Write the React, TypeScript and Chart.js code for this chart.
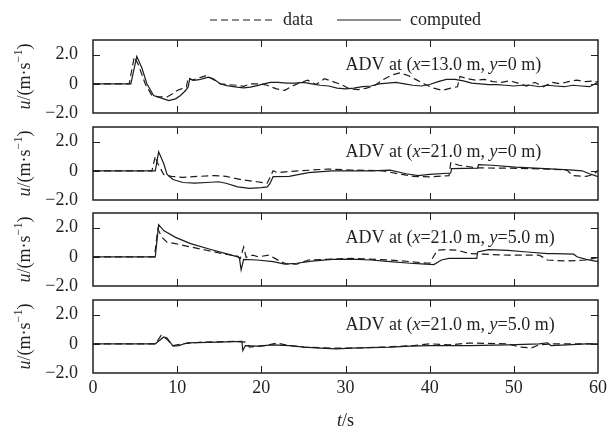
import React, { useEffect, useRef } from 'react';
import { Chart, registerables } from 'chart.js';

Chart.register(...registerables);

const FONT = "'Liberation Serif', 'Times New Roman', serif";
const INK = '#231f20';

const xTicks = [0, 10, 20, 30, 40, 50, 60];
const yTicks = [-2, 0, 2];
const legendLabels = ['data', 'computed'];
const probeX = ['13.0', '21.0', '21.0', '21.0'];
const probeY = ['0', '0', '5.0', '5.0'];

// Panel 1: ADV at (x=13.0 m, y=0 m)
const p1DataT = [0, 4.3, 4.9, 5.4, 6.2, 7.0, 7.8, 8.8, 9.4, 10.0, 10.5, 11.1, 11.3, 11.8, 12.3, 12.9, 13.5, 13.9, 14.5, 15.1, 15.9, 17.1, 17.9, 18.7, 19.9, 20.7, 21.8, 22.8, 23.5, 24.5, 25.5, 26.5, 27.5, 28.5, 29.5, 30.5, 31.5, 32.5, 33.5, 34.5, 35.5, 36.5, 37.5, 38.5, 39.5, 40.5, 41.5, 42.5, 43.3, 43.6, 44.5, 45.5, 46.5, 47.5, 48.5, 49.5, 50.5, 51.5, 52.5, 53.5, 54.5, 55.5, 56.5, 57.5, 58.5, 59.5, 60];
const p1DataU = [0, 0, 1.84, 1.3, 0, -0.8, -0.9, -0.9, -0.7, -0.46, -0.35, -0.23, 0.41, 0.25, 0.35, 0.46, 0.57, 0.42, 0.23, 0, -0.05, -0.1, -0.18, 0, 0, -0.1, -0.35, -0.45, -0.2, 0.05, 0.25, -0.05, 0.35, 0.15, -0.05, -0.35, -0.4, -0.3, -0.1, 0.3, 0.6, 0.75, 0.55, 0.25, -0.05, -0.3, -0.45, -0.3, -0.2, 0.5, 0.35, 0.25, 0.3, 0.15, 0.1, 0.2, 0.05, -0.15, 0.1, -0.2, 0.1, 0.0, 0.15, 0.25, 0.15, 0.2, 0.1];
const p1CompT = [0, 4.5, 5.2, 5.8, 6.4, 7.2, 8.4, 9.0, 9.8, 10.4, 11.0, 11.3, 11.5, 12.0, 12.6, 13.1, 13.7, 14.3, 15.1, 15.9, 17.1, 17.9, 18.7, 19.5, 20.3, 21.1, 22, 23, 24, 25, 26, 27, 28, 29, 30, 31, 32, 33, 34, 35, 36, 37, 38, 39, 40, 41, 42, 43, 44, 45, 46, 47, 48, 49, 50, 51, 52, 53, 54, 55, 56, 57, 58, 59, 60];
const p1CompU = [0, 0, 1.88, 1.1, 0, -0.8, -1.03, -1.15, -1.03, -0.8, -0.46, -0.23, 0.35, 0.23, 0.28, 0.35, 0.46, 0.35, 0, -0.12, -0.23, -0.28, -0.23, -0.12, 0, 0.1, 0.1, 0.05, 0.05, 0.1, 0.0, -0.1, -0.15, -0.3, -0.35, -0.3, -0.2, -0.15, 0.0, 0.05, 0.1, 0.0, -0.1, -0.15, -0.05, 0.15, 0.3, 0.3, 0.2, 0.05, 0.0, -0.05, -0.05, -0.1, -0.15, -0.1, -0.1, -0.2, -0.1, -0.15, -0.2, -0.1, -0.15, -0.2, 0.1];

// Panel 2: ADV at (x=21.0 m, y=0 m)
const p2DataT = [0, 7.0, 7.4, 7.6, 8.4, 9.3, 10.7, 12.6, 14.4, 15.8, 17.7, 19.5, 20.7, 21.4, 21.9, 23.3, 26, 27.9, 30.7, 34.4, 36.7, 38.1, 40, 42.3, 42.5, 43.5, 45.6, 49.3, 53.9, 56.3, 57, 58.6, 59.5, 60];
const p2DataU = [0, 0, 1.0, 0.6, -0.25, -0.38, -0.45, -0.38, -0.33, -0.38, -0.62, -0.75, -0.85, 0, -0.12, -0.05, 0.05, 0.12, 0.05, 0, -0.25, -0.38, -0.42, -0.33, 0.55, 0.38, 0.2, 0.18, 0.12, 0.05, -0.33, -0.38, -0.25, 0.05];
const p2CompT = [0, 7.4, 7.8, 8.4, 8.8, 9.5, 10.7, 12.1, 13.5, 14.9, 15.8, 17.2, 18.6, 20.0, 20.7, 21.0, 21.4, 23.3, 25.6, 28.4, 33, 35.3, 37.2, 38.6, 40, 42.5, 42.6, 45.7, 45.8, 47.4, 50.2, 54.9, 57, 58.1, 59, 60];
const p2CompU = [0, 0, 1.3, 0.5, -0.25, -0.6, -0.8, -0.85, -0.8, -0.75, -0.85, -1.1, -1.2, -1.15, -1.1, -0.9, -0.4, -0.38, -0.12, 0, 0, 0.05, -0.2, -0.33, -0.25, -0.15, 0.15, 0.18, 0.42, 0.38, 0.25, 0.12, 0.05, 0.0, -0.2, -0.4];

// Panel 3: ADV at (x=21.0 m, y=5.0 m)
const p3DataT = [0, 7.3, 7.7, 8.2, 8.8, 9.8, 11.6, 13.5, 15.3, 17.2, 17.5, 17.9, 18.2, 19.0, 19.6, 20.9, 21.4, 22.3, 23.0, 24.2, 25.6, 28.4, 30.7, 35.3, 37.7, 39.0, 40.0, 40.9, 41.9, 43.3, 44.7, 49.3, 53.0, 53.5, 54.0, 56.3, 58.6, 60];
const p3DataU = [0, 0, 1.9, 1.33, 1.0, 0.9, 0.67, 0.45, 0.22, 0.04, -0.11, 0.67, -0.04, 0.11, 0, 0.11, -0.04, -0.33, -0.49, -0.51, -0.22, -0.16, -0.11, -0.22, -0.33, -0.4, -0.44, 0.45, 0.49, 0.45, 0.22, 0.11, 0.11, -0.04, -0.22, -0.29, -0.22, -0.04];
const p3CompT = [0, 7.4, 7.8, 8.4, 9.8, 11.6, 14.0, 15.8, 17.2, 17.4, 17.6, 17.9, 19.5, 21.4, 22.8, 24.2, 26.0, 28.4, 30.7, 33.0, 35.3, 37.7, 39.0, 40.5, 41.4, 42.3, 45.6, 45.7, 47.0, 49.3, 51.6, 54.0, 54.9, 57.1, 57.5, 58.6, 60];
const p3CompU = [0, 0, 2.2, 1.8, 1.33, 0.9, 0.5, 0.22, 0, -0.11, -0.9, -0.18, -0.22, -0.33, -0.5, -0.44, -0.29, -0.18, -0.16, -0.22, -0.33, -0.44, -0.49, -0.53, -0.22, -0.11, -0.11, 0.33, 0.49, 0.44, 0.33, 0.22, 0.22, 0.18, 0, -0.18, -0.33];

// Panel 4: ADV at (x=21.0 m, y=5.0 m)
const p4DataT = [0, 7.4, 8.1, 8.8, 9.5, 10.7, 13.0, 16.7, 18.1, 18.6, 20.5, 21.4, 21.9, 23.3, 25.1, 28.4, 30.7, 34.4, 38.1, 40, 42.3, 44.7, 49.3, 50.7, 52.1, 53.0, 54.9, 60];
const p4DataU = [0, 0, 0.58, 0.3, -0.12, 0, 0.12, 0.16, 0.12, -0.23, -0.12, 0, 0.05, -0.12, -0.23, -0.3, -0.3, -0.23, -0.12, 0, -0.07, 0.05, 0, -0.23, -0.28, -0.07, 0, 0];
const p4CompT = [0, 7.4, 8.4, 8.8, 9.5, 10.2, 11.2, 14.9, 17.7, 17.8, 18.1, 19.5, 21.4, 23.3, 25.1, 27.0, 28.9, 30.7, 35.3, 37.7, 40, 44.7, 49.3, 53.0, 54.0, 54.4, 56.3, 58.6, 60];
const p4CompU = [0, 0, 0.47, 0.4, -0.16, -0.12, 0.07, 0.12, 0.16, -0.47, -0.12, -0.16, -0.07, -0.12, -0.23, -0.3, -0.35, -0.3, -0.23, -0.16, -0.12, -0.12, -0.07, 0.0, 0.07, -0.12, -0.07, 0, 0];

const panels = [
  { dataT: p1DataT, dataU: p1DataU, compT: p1CompT, compU: p1CompU },
  { dataT: p2DataT, dataU: p2DataU, compT: p2CompT, compU: p2CompU },
  { dataT: p3DataT, dataU: p3DataU, compT: p3CompT, compU: p3CompU },
  { dataT: p4DataT, dataU: p4DataU, compT: p4CompT, compU: p4CompU },
];

// canvas placement on the page: [top, height, paddingTop, paddingBottom]
const canvasBoxes = [
  [-13, 140, 0, 14],
  [120, 94, 7, 14],
  [206, 94, 7, 14],
  [293, 146, 7, 0],
];

const DASH = [7, 4];

const toPoints = (ts: number[], us: number[]) => ts.map((t, i) => ({ x: t, y: us[i] }));

const fmtY = (v: number) => (v === 0 ? '0' : (v < 0 ? '\u2212' : '') + Math.abs(v).toFixed(1));

type Part = [string, string];

function fontFor(style: string, size: number) {
  if (style === 'i') return `italic ${size}px ${FONT}`;
  if (style === 'sup') return `${Math.round(size * 0.65)}px ${FONT}`;
  return `${size}px ${FONT}`;
}

function measureParts(ctx: CanvasRenderingContext2D, parts: Part[], size: number) {
  let w = 0;
  for (const [txt, style] of parts) {
    ctx.font = fontFor(style, size);
    w += ctx.measureText(txt).width;
  }
  return w;
}

function drawParts(ctx: CanvasRenderingContext2D, parts: Part[], x: number, y: number, size: number) {
  let cx = x;
  for (const [txt, style] of parts) {
    ctx.font = fontFor(style, size);
    const dy = style === 'sup' ? -size * 0.35 : 0;
    ctx.fillText(txt, cx, y + dy);
    cx += ctx.measureText(txt).width;
  }
}

const framePlugin = {
  id: 'frame',
  afterDatasetsDraw(chart: any, _args: any, opts: any) {
    const { ctx, chartArea: a, scales } = chart;
    const xs = scales.x;
    const ys = scales.y;
    const idx = opts.panel as number;
    ctx.save();
    const L = 7;
    ctx.strokeStyle = INK;
    ctx.lineWidth = 1;
    ctx.setLineDash([]);
    ctx.beginPath();
    for (const v of xTicks.slice(1, -1)) {
      const px = Math.round(xs.getPixelForValue(v)) + 0.5;
      ctx.moveTo(px, a.top);
      ctx.lineTo(px, a.top + L);
      ctx.moveTo(px, a.bottom);
      ctx.lineTo(px, a.bottom - L);
    }
    for (const v of yTicks.slice(1)) {
      const py = Math.round(ys.getPixelForValue(v)) + 0.5;
      ctx.moveTo(a.left, py);
      ctx.lineTo(a.left + L, py);
      ctx.moveTo(a.right, py);
      ctx.lineTo(a.right - L, py);
    }
    ctx.stroke();
    ctx.lineWidth = 1.5;
    ctx.strokeRect(a.left, a.top, a.right - a.left, a.bottom - a.top);

    ctx.fillStyle = INK;
    ctx.textBaseline = 'middle';
    ctx.textAlign = 'left';
    const label: Part[] = [
      ['ADV at (', 'n'],
      ['x', 'i'],
      ['=' + probeX[idx] + ' m, ', 'n'],
      ['y', 'i'],
      ['=' + probeY[idx] + ' m)', 'n'],
    ];
    drawParts(ctx, label, xs.getPixelForValue(30), ys.getPixelForValue(1.3), 18);

    const yTitle: Part[] = [
      ['u', 'i'],
      ['/(m\u00b7s', 'n'],
      ['\u22121', 'sup'],
      [')', 'n'],
    ];
    const tw = measureParts(ctx, yTitle, 18);
    ctx.save();
    ctx.translate(25, (a.top + a.bottom) / 2);
    ctx.rotate(-Math.PI / 2);
    drawParts(ctx, yTitle, -tw / 2, 0, 18);
    ctx.restore();

    if (opts.xTitle) {
      const xt: Part[] = [['t', 'i'], ['/s', 'n']];
      const w = measureParts(ctx, xt, 18);
      drawParts(ctx, xt, (a.left + a.right) / 2 - w / 2, a.bottom + 48, 18);
    }
    ctx.restore();
  },
};

function makeConfig(i: number) {
  const p = panels[i];
  const box = canvasBoxes[i];
  const isFirst = i === 0;
  const isLast = i === panels.length - 1;
  const tickFont = { family: FONT, size: 18 };
  const xScale: any = {
    type: 'linear',
    min: 0,
    max: 60,
    grid: { display: false, drawTicks: false },
    border: { display: false },
    afterBuildTicks: (s: any) => {
      s.ticks = xTicks.map((v) => ({ value: v }));
    },
  };
  if (isLast) {
    xScale.position = 'bottom';
    xScale.ticks = { padding: 4, color: INK, font: tickFont, maxRotation: 0, autoSkip: false };
    xScale.afterFit = (s: any) => {
      s.height = 66;
      s.paddingLeft = 0;
      s.paddingRight = 0;
    };
  } else if (isFirst) {
    xScale.position = 'top';
    xScale.ticks = { display: false };
    xScale.afterFit = (s: any) => {
      s.height = 1;
      s.paddingLeft = 0;
      s.paddingRight = 0;
    };
  } else {
    xScale.display = false;
  }
  return {
    type: 'line',
    data: {
      datasets: [
        {
          label: legendLabels[0],
          data: toPoints(p.dataT, p.dataU),
          borderColor: '#1c1c1c',
          backgroundColor: '#1c1c1c',
          borderWidth: 1.2,
          borderDash: DASH,
          pointRadius: 0,
          fill: false,
          tension: 0,
        },
        {
          label: legendLabels[1],
          data: toPoints(p.compT, p.compU),
          borderColor: '#1c1c1c',
          backgroundColor: '#1c1c1c',
          borderWidth: 1.2,
          pointRadius: 0,
          fill: false,
          tension: 0,
        },
      ],
    },
    options: {
      animation: false,
      responsive: false,
      devicePixelRatio: 1,
      layout: { padding: { left: 0, right: 12, top: box[2], bottom: box[3] } },
      scales: {
        x: xScale,
        y: {
          type: 'linear',
          min: -2,
          max: 3,
          grid: { display: false, drawTicks: false },
          border: { display: false },
          afterFit: (s: any) => {
            s.width = 93;
            s.paddingTop = 0;
            s.paddingBottom = 0;
          },
          afterBuildTicks: (s: any) => {
            s.ticks = yTicks.map((v) => ({ value: v }));
          },
          ticks: { padding: 15, color: INK, font: tickFont, callback: (v: any) => fmtY(Number(v)) },
        },
      },
      plugins: {
        legend: isFirst
          ? {
              display: true,
              position: 'top',
              fullSize: false,
              align: 'center',
              labels: {
                usePointStyle: true,
                pointStyle: 'line',
                pointStyleWidth: 64,
                padding: 24,
                color: INK,
                font: { family: FONT, size: 18 },
                generateLabels: (chart: any) => {
                  const items = Chart.defaults.plugins.legend.labels.generateLabels(chart);
                  items.forEach((it: any, k: number) => {
                    it.lineDash = k === 0 ? DASH : [];
                    it.lineWidth = 1.2;
                    it.strokeStyle = '#1c1c1c';
                  });
                  return items;
                },
              },
            }
          : { display: false },
        tooltip: { enabled: false },
        frame: { panel: i, xTitle: isLast },
      },
    },
    plugins: [framePlugin],
  };
}

export default function App() {
  const refs = [useRef<HTMLCanvasElement>(null), useRef<HTMLCanvasElement>(null), useRef<HTMLCanvasElement>(null), useRef<HTMLCanvasElement>(null)];
  useEffect(() => {
    const charts = refs.map((r, i) => new Chart(r.current as HTMLCanvasElement, makeConfig(i) as any));
    return () => charts.forEach((c) => c.destroy());
  }, []);
  return (
    <div style={{ position: 'absolute', left: 0, top: 0, width: 610, height: 439, overflow: 'hidden', background: '#fff' }}>
      {canvasBoxes.map((b, i) => (
        <canvas
          key={i}
          ref={refs[i]}
          width={610}
          height={b[1]}
          style={{ position: 'absolute', left: 0, top: b[0], width: 610, height: b[1], display: 'block' }}
        />
      ))}
    </div>
  );
}
